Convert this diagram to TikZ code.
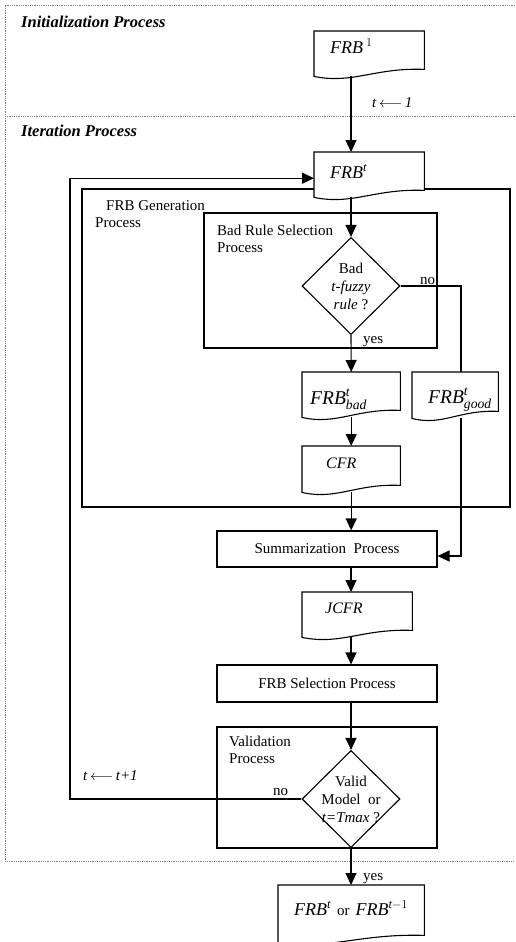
\documentclass[tikz,border=0pt]{standalone}
\usepackage{amsmath}
\usepackage{fontspec}
\setmainfont{Liberation Serif}
\usetikzlibrary{arrows.meta,shapes.geometric,calc}

\newcommand{\docline}[1]{%
	\draw[line width=1.1pt] (#1.south west) -- (#1.north west) -- (#1.north east) -- ([yshift=7pt]#1.south east)
		.. controls ($(#1.south west)!0.55!(#1.south east)+(0pt,9pt)$) and ($(#1.south west)!0.35!(#1.south east)+(0pt,-8pt)$) .. (#1.south west) -- cycle;}

\begin{document}
\begin{tikzpicture}[x=1pt,y=-1pt,
		every node/.style={font=\fontsize{15}{17}\selectfont},
		flow/.style={line width=1.1pt, -{Triangle[length=12pt,width=11pt]}},
		link/.style={line width=1.1pt},
		frame/.style={gray, densely dotted, line width=0.8pt},
		container/.style={rectangle, draw, line width=1.1pt, inner sep=0pt},
		process/.style={rectangle, draw, line width=1.1pt, inner sep=0pt, align=center},
		doc/.style={rectangle, fill=white, anchor=north west, inner ysep=0pt, align=left, font=\fontsize{18}{20}\selectfont},
		decision/.style={diamond, draw, fill=white, line width=1.1pt, inner sep=0pt, minimum width=98pt, minimum height=97pt},
		dtext/.style={align=center, inner sep=0pt, font=\fontsize{15}{18}\selectfont},
		caption/.style={anchor=north west, inner sep=0pt, align=left},
		note/.style={anchor=base west, inner sep=0pt},
		title/.style={anchor=base west, inner sep=0pt, font=\fontsize{16.5}{18}\selectfont\bfseries\itshape},
	]
	\useasboundingbox (0,0) rectangle (515,942);
	\clip (0,0) rectangle (515,942);
	\draw[frame] (515,5) -- (5,5) -- (5,861) -- (515,861);
	\draw[frame] (5,116) -- (515,116);
	\node[title] (init) at (21,28) {Initialization Process};
	\node[title] (iter) at (21,136) {Iteration Process};

	\node[container, minimum width=428pt, minimum height=318pt] (gen) at (296,348) {};
	\node[container, minimum width=233pt, minimum height=135pt] (badsel) at (320.5,280.5) {};
	\node[container, minimum width=220pt, minimum height=121pt] (valid) at (327,787.5) {};
	\node[caption] (genlbl) at (95,200) {\hspace{11pt}FRB Generation\\Process};
	\node[caption] (badlbl) at (217,225) {Bad Rule Selection\\Process};
	\node[caption] (validlbl) at (229,736) {Validation\\Process};

	\node[doc, inner xsep=16pt, text width=78pt, text height=22pt, text depth=23pt] (frbone) at (314,31) {\textit{FRB}\,$^{1}$};
	\node[doc, inner xsep=16pt, text width=78pt, text height=26pt, text depth=19pt] (frbt) at (314,152) {$\textit{FRB}^{\textit{t}}$};
	\node[doc, inner xsep=8pt, text width=82pt, text height=32pt, text depth=13pt, font=\fontsize{19.5}{21}\selectfont] (frbbad) at (302,372) {$\textit{FRB}^{\textit{t}}_{\textit{bad}}$};
	\node[doc, inner xsep=16pt, text width=54pt, text height=31pt, text depth=15pt, font=\fontsize{19.5}{21}\selectfont] (frbgood) at (412,372) {$\textit{FRB}^{\textit{t}}_{\textit{good}}$};
	\node[doc, inner xsep=24pt, text width=50pt, text height=22pt, text depth=24pt, font=\fontsize{16}{18}\selectfont] (cfr) at (302,446) {\textit{CFR}};
	\node[doc, inner xsep=23pt, text width=64pt, text height=21pt, text depth=24pt, font=\fontsize{16}{18}\selectfont] (jcfr) at (302,592) {\textit{JCFR}};
	\node[doc, inner xsep=16pt, text width=114pt, text height=30pt, text depth=27pt] (final) at (278,885) {\mbox{$\textit{FRB}^{\textit{t}}$ {\fontsize{15}{17}\selectfont or} $\textit{FRB}^{\textit{t}-1}$}};
	\docline{frbone}
	\docline{frbt}
	\docline{frbbad}
	\docline{frbgood}
	\docline{cfr}
	\docline{jcfr}
	\docline{final}

	\node[process, minimum width=220pt, minimum height=36pt] (summ) at (327,549) {Summarization\ \ Process};
	\node[process, minimum width=220pt, minimum height=37pt] (frbsel) at (327,683.5) {FRB Selection Process};
	\node[decision, label={[dtext]center:{Bad\\\textit{t-fuzzy}\\\textit{rule} ?}}] (badq) at (351,286) {};
	\node[decision, label={[dtext]center:{Valid\\Model\ \ or\\\textit{t=Tmax} ?}}] (validq) at (351,799) {};
	\coordinate (goodline) at (461,286);
	\coordinate (backline) at (70,799);

	\node[note] (tone) at (372,107) {\textit{t}\,$\longleftarrow$\,\textit{1}};
	\node[note] (tnext) at (83,780) {\textit{t}\,$\longleftarrow$\,\textit{t+1}};
	\node[note] (badno) at (420,284) {no};
	\node[note] (badyes) at (363,343) {yes};
	\node[note] (validno) at (273,795) {no};
	\node[note] (validyes) at (363,880) {yes};

	\draw[flow] (badq |- frbone.south) -- (badq |- frbt.north);
	\draw[flow] (badq |- frbt.south) -- (badq.north);
	\draw[flow] (badq.south) -- (frbbad.north);
	\draw[flow] (frbbad.south) -- (cfr.north);
	\draw[flow] (cfr.south) -- (cfr.south |- summ.north);
	\draw[flow] (badq |- summ.south) -- (badq |- jcfr.north);
	\draw[flow] (badq |- jcfr.south) -- (badq |- frbsel.north);
	\draw[flow] (validq |- frbsel.south) -- (validq.north);
	\draw[flow] (validq.south) -- (validq |- final.north);
	\draw[link] (badq.east) -- (goodline) -- (goodline |- frbgood.north);
	\draw[flow] (goodline |- frbgood.south) |- ([yshift=-7pt]summ.east);
	\draw[flow] (validq.west) -- (backline) |- ([yshift=-3.5pt]frbt.west);
\end{tikzpicture}
\end{document}
